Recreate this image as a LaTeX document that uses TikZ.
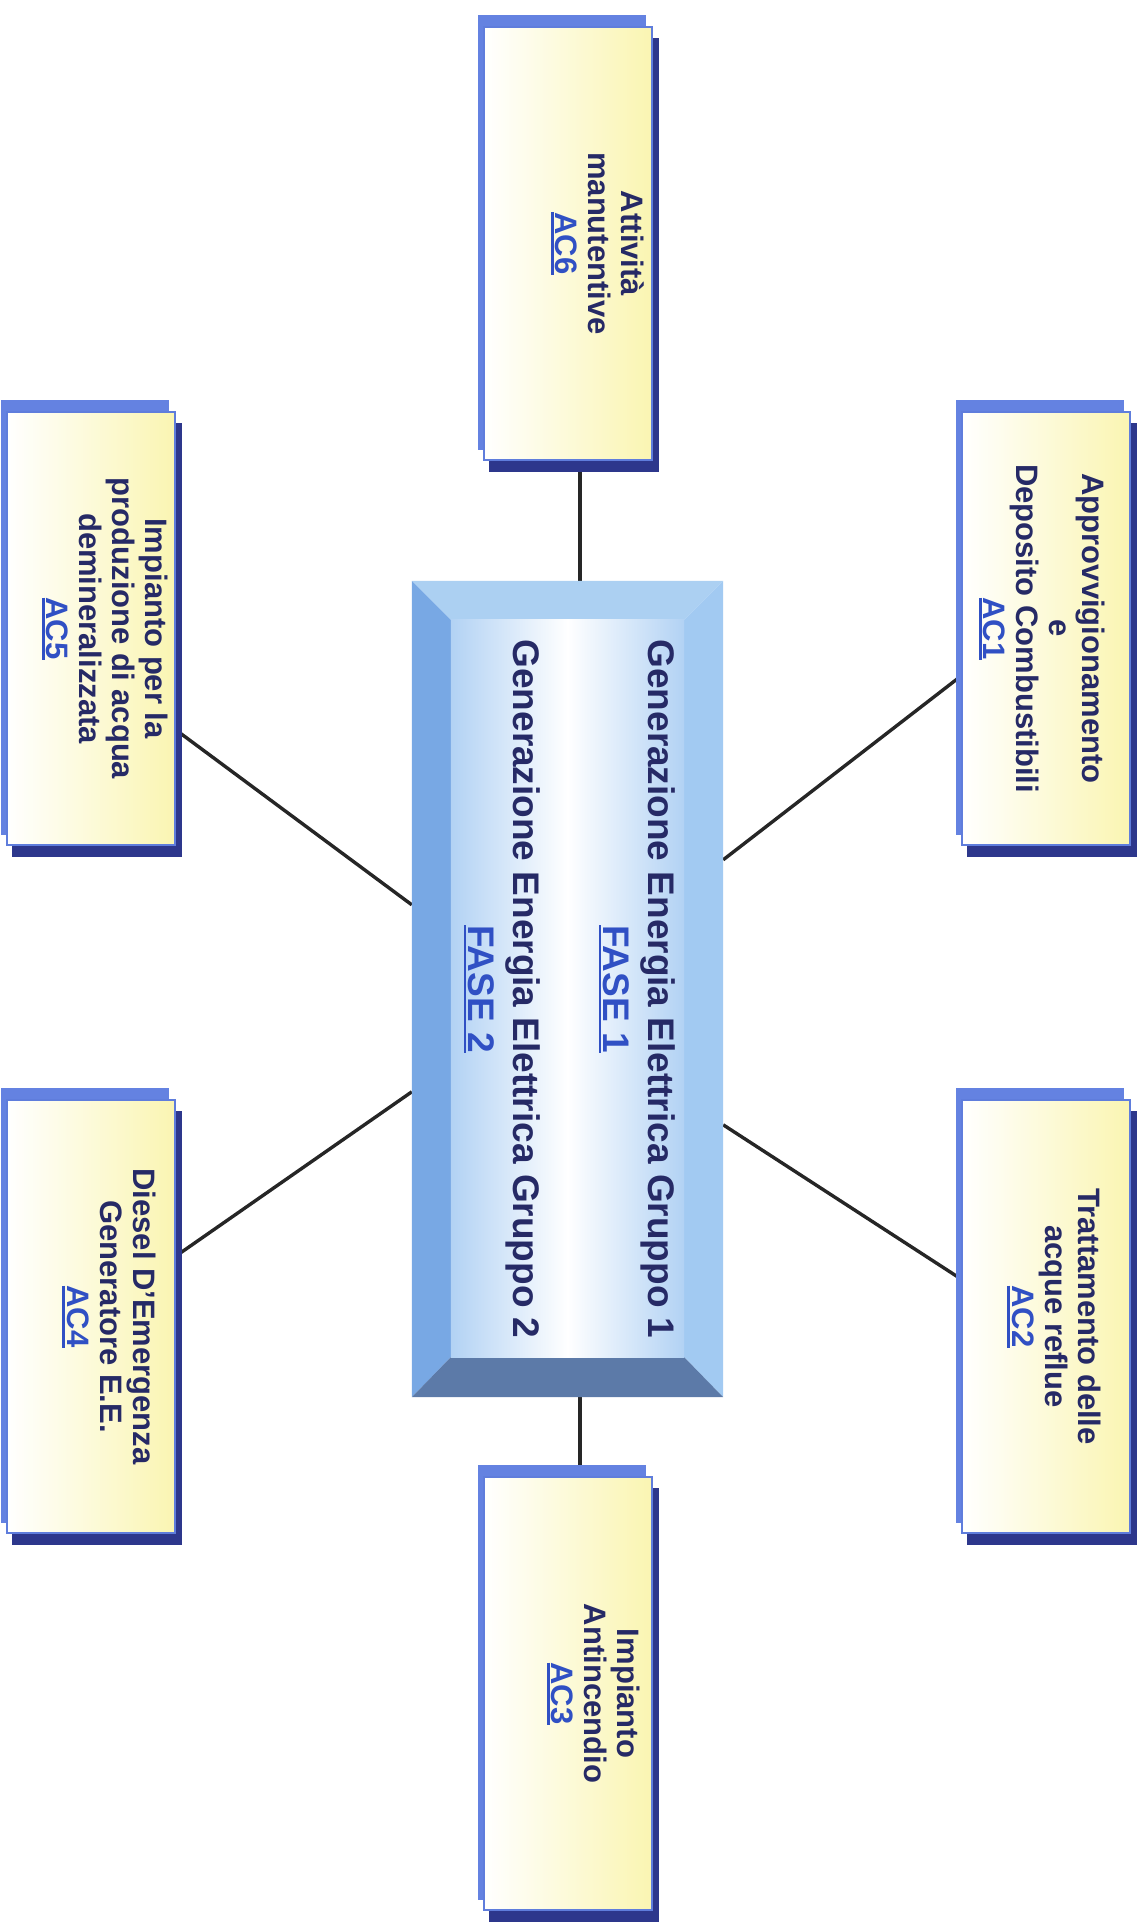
\documentclass[tikz,border=0pt]{standalone}
\usepackage{fontspec}
\setmainfont{Liberation Sans}
\usetikzlibrary{calc,backgrounds}
\definecolor{txt}{RGB}{38,42,102}
\definecolor{lbl}{RGB}{48,80,196}
\definecolor{boxline}{RGB}{95,125,220}
\definecolor{lightbar}{RGB}{100,130,225}
\definecolor{darkbar}{RGB}{45,55,140}
\definecolor{paley}{RGB}{250,245,178}
\definecolor{bvtop}{RGB}{172,208,242}
\definecolor{bvleft}{RGB}{120,168,228}
\definecolor{bvright}{RGB}{162,202,242}
\definecolor{bvbot}{RGB}{92,122,168}
\definecolor{innerblue}{RGB}{178,210,244}
\newcommand{\lbltext}[1]{\setbox0\hbox{#1}\rlap{\color{lbl}\rule[-5pt]{\wd0}{2.8pt}}\box0}
\newcommand{\acrot}[2]{\hbox{\kern#1pt\rotatebox{-90}{\begin{tabular}{@{}c@{}}#2\end{tabular}}\kern-#1pt}}
\begin{document}
\begin{tikzpicture}[x=1pt,y=-1pt,
  acbox/.style={draw=boxline, line width=2pt, left color=white, right color=paley,
    minimum width=168pt, minimum height=433pt, inner sep=0pt, text=txt,
    font=\bfseries\fontsize{31}{33}\selectfont},
  conn/.style={draw=black!85, line width=3.4pt},
  lightsh/.style={fill=lightbar},
  darksh/.style={fill=darkbar},
  genbox/.style={minimum width=311pt, minimum height=816pt, inner sep=0pt, text=txt,
    font=\bfseries\fontsize{37}{45}\selectfont}]
\useasboundingbox (0,0) rectangle (1146,1928);

% central box
\node[genbox] (gen) at (567.5,989) {\rotatebox{-90}{\begin{tabular}{@{}c@{}}
Generazione Energia Elettrica Gruppo 1\\
{\color{lbl}\lbltext{FASE 1}}\\
\\
Generazione Energia Elettrica Gruppo 2\\
{\color{lbl}\lbltext{FASE 2}}
\end{tabular}}};

% activity boxes
\node[acbox] (ac6) at (567.5,243.5) {\acrot{28}{Attività\\manutentive\\{\color{lbl}\lbltext{AC6}}}};
\node[acbox] (ac1) at (1046,628.5) {\acrot{-6}{Approvvigionamento\\e\\Deposito Combustibili\\{\color{lbl}\lbltext{AC1}}}};
\node[acbox] (ac5) at (91,628.5) {\acrot{12}{Impianto per la\\produzione di acqua\\demineralizzata\\{\color{lbl}\lbltext{AC5}}}};
\node[acbox] (ac2) at (1046,1316.5) {\acrot{6}{Trattamento delle\\acque reflue\\{\color{lbl}\lbltext{AC2}}}};
\node[acbox] (ac4) at (91,1316.5) {\acrot{16}{Diesel D’Emergenza\\Generatore E.E.\\{\color{lbl}\lbltext{AC4}}}};
\node[acbox] (ac3) at (567.5,1693.5) {\acrot{24}{Impianto\\Antincendio\\{\color{lbl}\lbltext{AC3}}}};

\coordinate (vx) at (580,0);

\begin{scope}[on background layer]
  % connectors
  \draw[conn] (ac6.south -| vx) -- (gen.north -| vx);
  \draw[conn] (gen.south -| vx) -- (ac3.north -| vx);
  \draw[conn] ([yshift=-279pt]gen.north east) -- ([yshift=-265pt]ac1.north west);
  \draw[conn] ([yshift=-324pt]gen.north west) -- ([yshift=-319pt]ac5.north east);
  \draw[conn] ([yshift=-511pt]gen.north west) -- ([yshift=-157pt]ac4.north east);
  \draw[conn] ([yshift=-544pt]gen.north east) -- ([yshift=-180pt]ac2.north west);
  % 3D edges of the activity boxes
  \foreach \b in {ac6,ac1,ac5,ac2,ac4,ac3}{
    \fill[lightsh] ([shift={(-5,-11)}]\b.north west) rectangle ([shift={(-7,-11)}]\b.south east);
    \fill[darksh] ([shift={(6,12)}]\b.north west) rectangle ([shift={(6,11)}]\b.south east);
  }
  % bevelled central frame
  \coordinate (inw) at ($(gen.north west)+(39,39)$);
  \coordinate (ine) at ($(gen.north east)+(-39,39)$);
  \coordinate (ise) at ($(gen.south east)+(-39,-40)$);
  \coordinate (isw) at ($(gen.south west)+(39,-40)$);
  \fill[bvtop] (gen.north west) -- (gen.north east) -- (ine) -- (inw) -- cycle;
  \fill[bvleft] (gen.north west) -- (inw) -- (isw) -- (gen.south west) -- cycle;
  \fill[bvright] (gen.north east) -- (gen.south east) -- (ise) -- (ine) -- cycle;
  \fill[bvbot] (gen.south west) -- (isw) -- (ise) -- (gen.south east) -- cycle;
  \shade[left color=innerblue, right color=innerblue, middle color=white] (inw) rectangle (ise);
\end{scope}
\end{tikzpicture}
\end{document}
